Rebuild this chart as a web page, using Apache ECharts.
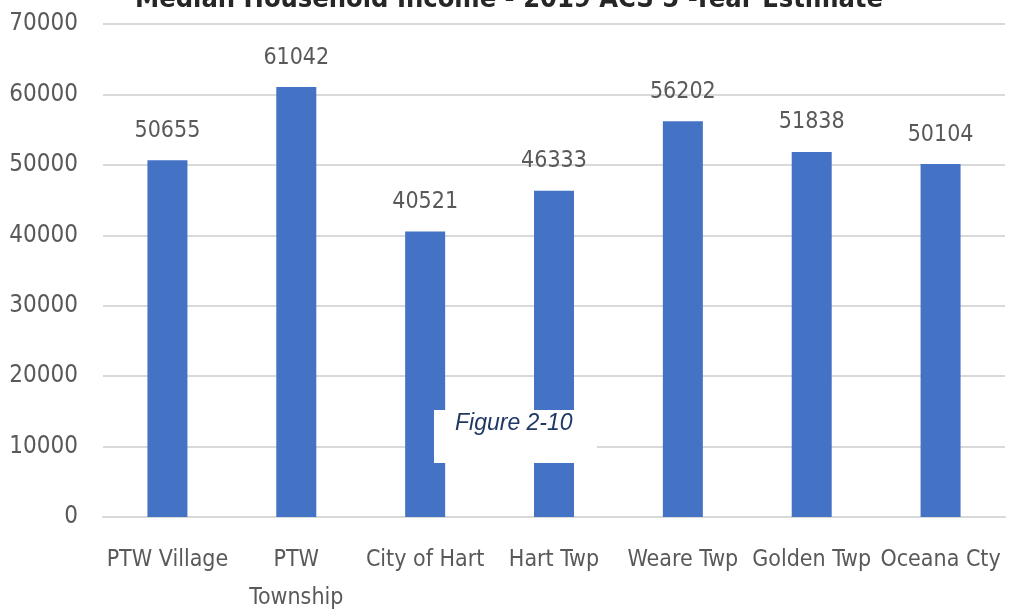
<!DOCTYPE html>
<html>
<head>
<meta charset="utf-8">
<script src="https://cdn.jsdelivr.net/npm/echarts@6/dist/echarts.min.js"></script>
<style>
  html, body { margin: 0; padding: 0; background: #fff; }
  #chart { width: 1018px; height: 610px; }
</style>
</head>
<body>
<div id="chart"></div>
<script>
// ── Data ──────────────────────────────────────────────────────────
const categories = ['PTW Village', 'PTW\nTownship', 'City of Hart', 'Hart Twp', 'Weare Twp', 'Golden Twp', 'Oceana Cty'];
const income = [50655, 61042, 40521, 46333, 56202, 51838, 50104];
const yTicks = [0, 10000, 20000, 30000, 40000, 50000, 60000, 70000];

const FONT = '"Liberation Sans Narrow", "DejaVu Sans Condensed", sans-serif';
const GREY = '#595959';
const BAR = '#4472C4';

const chart = echarts.init(document.getElementById('chart'), null, { renderer: 'canvas' });

chart.setOption({
  animation: false,
  backgroundColor: '#fff',
  title: {
    text: 'Median Household Income - 2019 ACS 5 -Year Estimate',
    left: 'center',
    top: -19,
    textStyle: { fontFamily: FONT, fontSize: 27, fontWeight: 'bold', color: '#262626' }
  },
  grid: { left: 103, right: 13, top: 24, bottom: 93, containLabel: false, outerBoundsMode: 'none' },
  xAxis: {
    type: 'category',
    data: categories,
    axisLine: { lineStyle: { color: '#d9d9d9', width: 2 } },
    axisTick: { show: false },
    axisLabel: {
      fontFamily: FONT, fontSize: 23, color: GREY,
      margin: 24, lineHeight: 38, interval: 0
    }
  },
  yAxis: {
    type: 'value',
    min: yTicks[0],
    max: yTicks[yTicks.length - 1],
    interval: 10000,
    axisLine: { show: false },
    axisTick: { show: false },
    splitLine: { lineStyle: { color: '#d9d9d9', width: 2 } },
    axisLabel: { fontFamily: FONT, fontSize: 24, color: GREY, margin: 25, formatter: v => String(v) }
  },
  series: [{
    type: 'bar',
    data: income,
    barWidth: 40,
    itemStyle: { color: BAR },
    label: {
      show: true, position: 'top', distance: 18,
      fontFamily: FONT, fontSize: 23, color: GREY
    }
  }],
  // white note box covering part of the plot, as in the source figure
  graphic: [
    {
      type: 'rect', z: 100, left: 434, top: 410,
      shape: { width: 163, height: 53 }, style: { fill: '#fff' }
    },
    {
      type: 'text', z: 101, left: 455, top: 412,
      style: { text: 'Figure 2-10', font: 'italic 23px "Liberation Sans", Arial, sans-serif', fill: '#1F3864' }
    }
  ]
});
</script>
</body>
</html>
